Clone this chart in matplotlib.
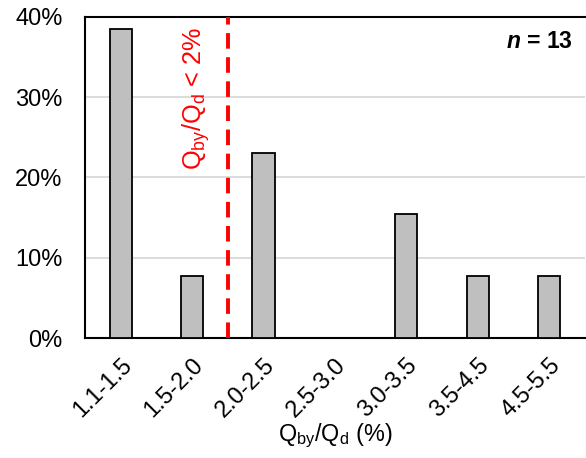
import matplotlib.pyplot as plt

plt.rcParams['font.family'] = ['Liberation Sans', 'DejaVu Sans']
plt.rcParams['mathtext.fontset'] = 'custom'
plt.rcParams['mathtext.rm'] = 'Liberation Sans'
plt.rcParams['mathtext.it'] = 'Liberation Sans:italic'
plt.rcParams['mathtext.bf'] = 'Liberation Sans:bold'
plt.rcParams['mathtext.bfit'] = 'Liberation Sans:italic:bold'

categories = ['1.1-1.5', '1.5-2.0', '2.0-2.5', '2.5-3.0', '3.0-3.5', '3.5-4.5', '4.5-5.5']
percent = [38.5, 7.7, 23.1, 0.0, 15.4, 7.7, 7.7]
y_ticks = [0, 10, 20, 30, 40]
threshold_pos = 1.5
n_total = 13

fig = plt.figure(figsize=(5.86, 4.58), dpi=100)
ax = fig.add_axes([0.145, 0.262, 0.853, 0.701])

x = range(len(categories))
ax.bar(x, percent, width=0.31, color='#BFBFBF', edgecolor='black', linewidth=1.3, zorder=3)

ax.set_xlim(-0.5, len(categories) - 0.5)
ax.set_ylim(0, 40)
ax.set_yticks(y_ticks)
ax.set_yticklabels([f'{t}%' for t in y_ticks], fontsize=17)
ax.yaxis.grid(True, color='#D9D9D9', linewidth=1.3, zorder=0)
ax.set_xticks(list(x))
ax.set_xticklabels(categories, rotation=45, ha='right', rotation_mode='anchor', fontsize=17)
ax.tick_params(axis='y', length=0, pad=16)
ax.tick_params(axis='x', length=0, pad=12)

for side in ['left', 'top', 'bottom']:
    ax.spines[side].set_color('black')
    ax.spines[side].set_linewidth(1.5)
ax.spines['right'].set_visible(False)

# threshold line and its label
ax.axvline(threshold_pos, color='#FF0000', linestyle=(0, (4, 2.2)), linewidth=2.8, zorder=4)
ax.text(threshold_pos - 0.44, 29.8, r'Q$_{\mathrm{by}}$/Q$_{\mathrm{d}}$ < 2%', rotation=90,
        color='#FF0000', fontsize=18.2, ha='center', va='center')

ax.text(0.975, 0.925, r'$\bfit{n}$ = ' + str(n_total), transform=ax.transAxes,
        fontsize=16.5, fontweight='bold', ha='right', va='center')

ax.set_xlabel(r'Q$_{\mathrm{by}}$/Q$_{\mathrm{d}}$ (%)', fontsize=16.8, labelpad=0)

plt.savefig('out.png', dpi=100)
